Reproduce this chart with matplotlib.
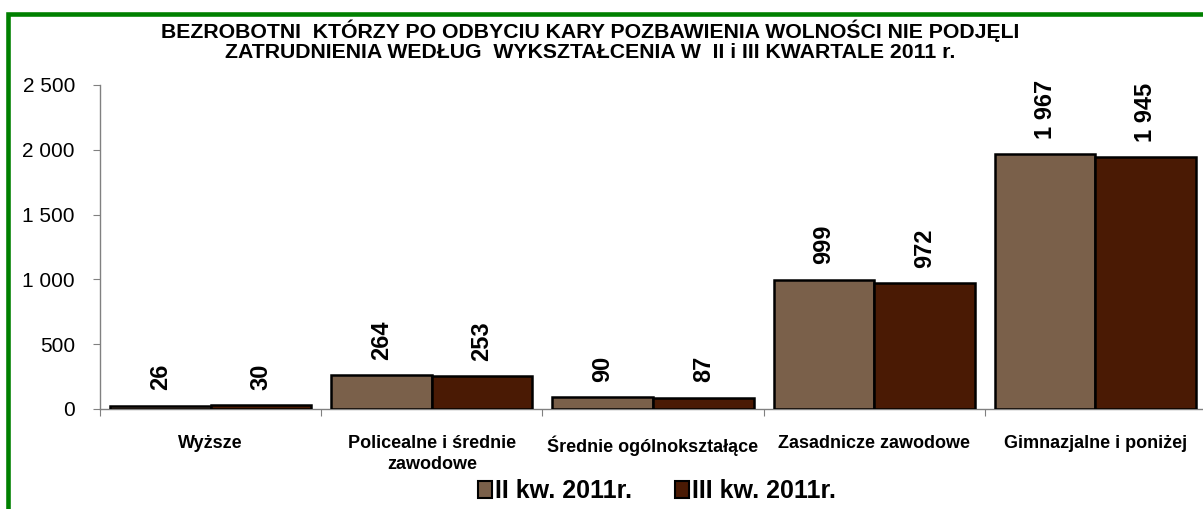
import matplotlib
matplotlib.use("Agg")
import matplotlib.pyplot as plt
from matplotlib.patches import Rectangle, Patch
import numpy as np

categories = ["Wyższe", "Policealne i średnie\nzawodowe", "Średnie ogólnokształące",
              "Zasadnicze zawodowe", "Gimnazjalne i poniżej"]
series_names = ["II kw. 2011r.", "III kw. 2011r."]
q2_values = [26, 264, 90, 999, 1967]
q3_values = [30, 253, 87, 972, 1945]
yticks = [0, 500, 1000, 1500, 2000, 2500]
title = ("BEZROBOTNI  KTÓRZY PO ODBYCIU KARY POZBAWIENIA WOLNOŚCI NIE PODJĘLI\n"
         "ZATRUDNIENIA WEDŁUG  WYKSZTAŁCENIA W  II i III KWARTALE 2011 r.")

colors = ["#7A604A", "#4A1A04"]
FONT = ["Liberation Sans", "DejaVu Sans"]
plt.rcParams["font.family"] = FONT

W, H = 1203, 509
fig = plt.figure(figsize=(W / 100, H / 100), dpi=100)

# green frame (partly cropped at right/bottom)
fig.patches.append(Rectangle((7.5 / W, -0.2), 1.3, (H - 14) / H + 0.2,
                             transform=fig.transFigure, fill=False,
                             edgecolor="#008000", linewidth=3.3, zorder=0))

ax = fig.add_axes([100 / W, 100 / H, 1106 / W, 324 / H])
x = np.arange(len(categories))
bw = 0.455
for i, vals in enumerate([q2_values, q3_values]):
    pos = x + (i - 0.5) * bw
    ax.bar(pos, vals, width=bw, color=colors[i], edgecolor="black",
           linewidth=1.8, label=series_names[i], zorder=3)
    for p, v in zip(pos, vals):
        ax.annotate(f"{v:,}".replace(",", " "), (p, v), xytext=(0, 11),
                    textcoords="offset points", rotation=90, ha="center",
                    va="bottom", fontsize=17, fontweight="bold")

ax.set_xlim(-0.5, len(categories) - 0.5)
ax.set_ylim(0, 2500)
ax.set_yticks(yticks)
ax.set_yticklabels([f"{v:,}".replace(",", " ") for v in yticks], fontsize=15)
ax.set_xticks(np.arange(len(categories) + 1) - 0.5)
ax.set_xticklabels([])
ax.set_xticks(x, minor=True)
ax.set_xticklabels(categories, minor=True, fontsize=13, fontweight="bold",
                   linespacing=1.3)
ax.tick_params(axis="x", which="minor", length=0, pad=19)
ax.tick_params(axis="x", which="major", length=5, color="#808080")
ax.tick_params(axis="y", length=5, color="#808080", pad=13)
for s in ["top", "right"]:
    ax.spines[s].set_visible(False)
for s in ["left", "bottom"]:
    ax.spines[s].set_color("#808080")
    ax.spines[s].set_linewidth(1.0)

fig.text(590 / W, 1 - 41 / H, title, ha="center", va="center", fontsize=15.3,
         fontweight="bold", linespacing=1.05)

handles = [Patch(facecolor=colors[i], edgecolor="black", linewidth=1.5)
           for i in range(2)]
fig.legend(handles, series_names, loc="center", bbox_to_anchor=(657 / W, 1 - 491 / H),
           ncol=2, frameon=False, prop={"size": 18, "weight": "bold"},
           handlelength=0.55, handleheight=0.7, handletextpad=0.15,
           columnspacing=1.7, borderpad=0)

fig.savefig("out.png", dpi=100)
